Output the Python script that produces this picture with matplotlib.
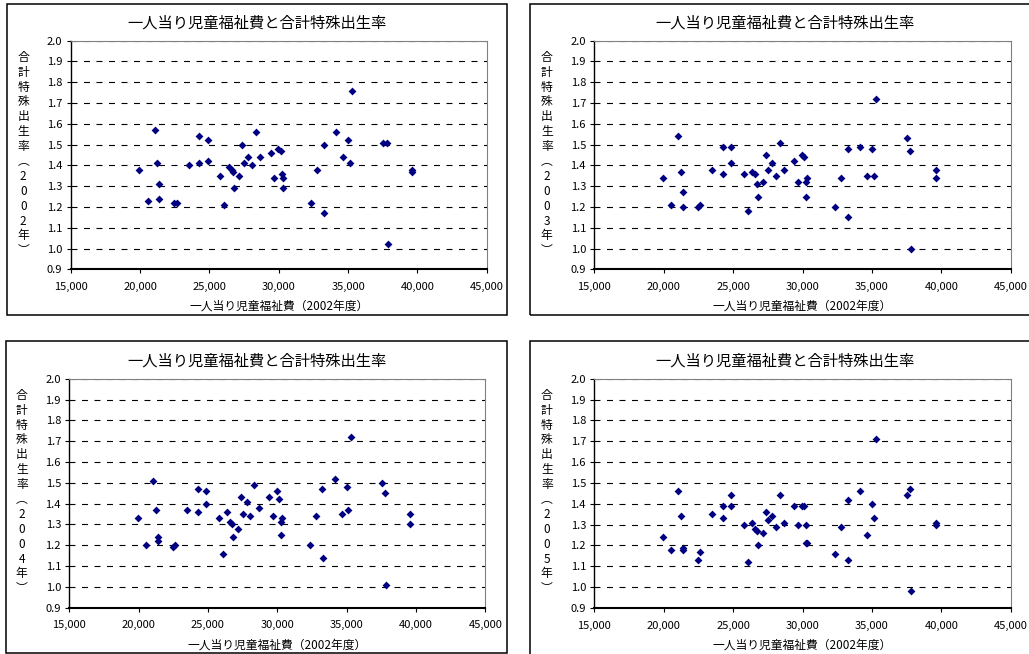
import matplotlib
matplotlib.use("Agg")
import matplotlib.pyplot as plt
from matplotlib.patches import Rectangle
from matplotlib.ticker import FuncFormatter, MultipleLocator

plt.rcParams['font.family'] = ['Noto Sans CJK JP', 'DejaVu Sans']
plt.rcParams['lines.scale_dashes'] = False

# per-capita child welfare spending (2002), one value per prefecture
spending = [19950, 20550, 21060, 21250, 21400, 21400, 22450, 22650, 23500, 24280,
            24280, 24880, 24880, 25800, 26080, 26380, 26600, 26730, 26780, 27130,
            27370, 27520, 27800, 28060, 28350, 28650, 29420, 29680, 29980, 30130,
            30270, 30330, 30280, 32330, 32770, 33250, 33300, 34150, 34650, 35030,
            35120, 35300, 37550, 37780, 37850, 39590, 39600]

tfr_2002 = [1.38, 1.23, 1.57, 1.41, 1.31, 1.24, 1.22, 1.22, 1.40, 1.54,
            1.41, 1.52, 1.42, 1.35, 1.21, 1.39, 1.38, 1.37, 1.29, 1.35,
            1.50, 1.41, 1.44, 1.40, 1.56, 1.44, 1.46, 1.34, 1.48, 1.47,
            1.36, 1.34, 1.29, 1.22, 1.38, 1.50, 1.17, 1.56, 1.44, 1.52,
            1.41, 1.76, 1.51, 1.51, 1.02, 1.38, 1.37]
tfr_2003 = [1.34, 1.21, 1.54, 1.37, 1.27, 1.20, 1.20, 1.21, 1.38, 1.49,
            1.36, 1.49, 1.41, 1.36, 1.18, 1.37, 1.36, 1.31, 1.25, 1.32,
            1.45, 1.38, 1.41, 1.35, 1.51, 1.38, 1.42, 1.32, 1.45, 1.44,
            1.32, 1.34, 1.25, 1.20, 1.34, 1.48, 1.15, 1.49, 1.35, 1.48,
            1.35, 1.72, 1.53, 1.47, 1.00, 1.38, 1.34]
tfr_2004 = [1.33, 1.20, 1.51, 1.37, 1.24, 1.22, 1.19, 1.20, 1.37, 1.47,
            1.36, 1.46, 1.40, 1.33, 1.16, 1.36, 1.31, 1.30, 1.24, 1.28,
            1.43, 1.35, 1.41, 1.34, 1.49, 1.38, 1.43, 1.34, 1.46, 1.42,
            1.31, 1.33, 1.25, 1.20, 1.34, 1.47, 1.14, 1.52, 1.35, 1.48,
            1.37, 1.72, 1.50, 1.45, 1.01, 1.35, 1.30]
tfr_2005 = [1.24, 1.18, 1.46, 1.34, 1.19, 1.18, 1.13, 1.17, 1.35, 1.39,
            1.33, 1.44, 1.39, 1.30, 1.12, 1.31, 1.28, 1.27, 1.20, 1.26,
            1.36, 1.32, 1.34, 1.29, 1.44, 1.31, 1.39, 1.30, 1.39, 1.39,
            1.30, 1.21, 1.21, 1.16, 1.29, 1.42, 1.13, 1.46, 1.25, 1.40,
            1.33, 1.71, 1.44, 1.47, 0.98, 1.31, 1.30]

years = ['2002', '2003', '2004', '2005']
series = [tfr_2002, tfr_2003, tfr_2004, tfr_2005]

title = '一人当り児童福祉費と合計特殊出生率'
xlabel = '一人当り児童福祉費（2002年度）'

W, H = 1029, 654
fig = plt.figure(figsize=(W / 100, H / 100), dpi=100)

# pixel layout: (box left, top, right, bottom), (axes left, top, right, bottom)
layout = [
    ((7, 4, 507, 315), (70.7, 40.7, 486.7, 269.3)),
    ((530, 4, 1040, 315), (594.3, 40.7, 1010.7, 269.3)),
    ((6, 341, 507, 653), (69.3, 378.7, 485.3, 607.7)),
    ((530, 341, 1040, 662), (594.3, 378.7, 1010.7, 608)),
]

navy = '#000080'

for (box, ax_px), year, tfr in zip(layout, years, series):
    bl, bt, br, bb = box
    fig.patches.append(Rectangle((bl / W, 1 - bb / H), (br - bl) / W, (bb - bt) / H,
                                 transform=fig.transFigure, fill=False,
                                 edgecolor='black', linewidth=1.1))
    l, t, r, b = ax_px
    ax = fig.add_axes([l / W, 1 - b / H, (r - l) / W, (b - t) / H])
    ax.scatter(spending, tfr, marker='D', s=16, color=navy, linewidths=0, zorder=3)

    ax.set_xlim(15000, 45000)
    ax.set_ylim(0.9, 2.0)
    ax.xaxis.set_major_locator(MultipleLocator(5000))
    ax.yaxis.set_major_locator(MultipleLocator(0.1))
    ax.xaxis.set_major_formatter(FuncFormatter(lambda v, p: f'{v:,.0f}'))
    ax.yaxis.set_major_formatter(FuncFormatter(lambda v, p: f'{v:.1f}'))
    ax.tick_params(direction='out', length=3, width=0.8, labelsize=8, pad=3)
    ax.tick_params(axis='x', pad=6)

    ax.grid(axis='y', color='black', linewidth=0.8, linestyle=(0, (4.3, 4.7)))
    glines = ax.yaxis.get_gridlines()
    glines[0].set_visible(False)
    glines[-1].set_visible(False)

    for side in ('top', 'right'):
        ax.spines[side].set_color('#808080')
        ax.spines[side].set_linewidth(0.8)
    ax.spines['left'].set_linewidth(1.0)
    ax.spines['bottom'].set_linewidth(1.5)

    # title centred on the box, x label centred on the axes
    fig.text((bl + br) / 2 / W, 1 - (t - 17.5) / H, title, ha='center', va='center',
             fontsize=11)
    fig.text((l + r) / 2 / W, 1 - (b + 37) / H, xlabel, ha='center', va='center',
             fontsize=8.5)

    # vertical y label, one character per row
    ychars = list('合計特殊出生率') + ['︵'] + list(year) + ['年', '︶']
    for i, ch in enumerate(ychars):
        fig.text((l - 47.5) / W, 1 - (t + 16.5 + i * 14.9) / H, ch,
                 ha='center', va='center', fontsize=8.5)

fig.savefig('out.png', dpi=100)
